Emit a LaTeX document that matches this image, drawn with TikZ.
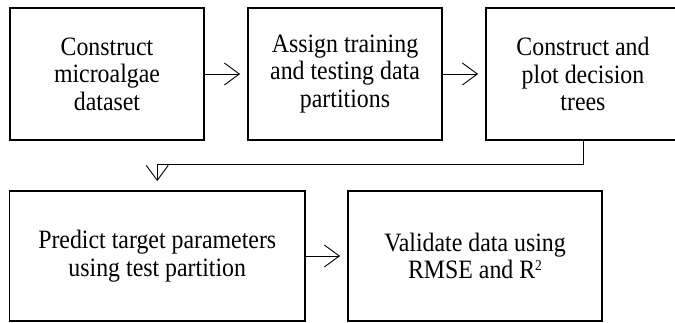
\documentclass[tikz,border=0pt]{standalone}
\usepackage{fontspec}
\setmainfont{Liberation Serif}[FakeStretch=0.9]
\usetikzlibrary{arrows.meta}
\tikzset{
  stepbox/.style={draw, line width=1.8pt, inner sep=0pt, align=center,
    font=\fontsize{26.5}{27.5}\selectfont},
  flow/.style={line width=0.9pt, -{Straight Barb[length=15pt,width=22pt,line width=0.9pt]}, shorten >=7pt}
}
\begin{document}
\begin{tikzpicture}[x=1pt,y=-1pt]
\useasboundingbox (0,0) rectangle (675,322);
\node[stepbox, minimum width=194.5pt, minimum height=132pt] (b1) at (107,74) {Construct\\microalgae\\dataset};
\node[stepbox, minimum width=194pt, minimum height=132pt] (b2) at (345,74) {Assign training\\and testing data\\partitions};
\node[stepbox, minimum width=194pt, minimum height=132pt] (b3) at (583,74) {Construct and\\plot decision\\trees};
\node[stepbox, minimum width=295.5pt, minimum height=130pt] (b4) at (157.25,256) {Predict target parameters\\using test partition};
\node[stepbox, minimum width=254pt, minimum height=130pt] (b5) at (475,256) {Validate data using\\RMSE and R\raisebox{8.2pt}{\fontsize{15}{15}\selectfont 2}};
\coordinate (c1) at (583,164.3);
\draw[flow] (b1.east) -- (b2.west);
\draw[flow] (b2.east) -- (b3.west);
\draw[flow] (b4.east) -- (b5.west);
\draw[flow, shorten >=9pt] (b3.south) -- (c1) -| (b4.north);
\end{tikzpicture}
\end{document}
